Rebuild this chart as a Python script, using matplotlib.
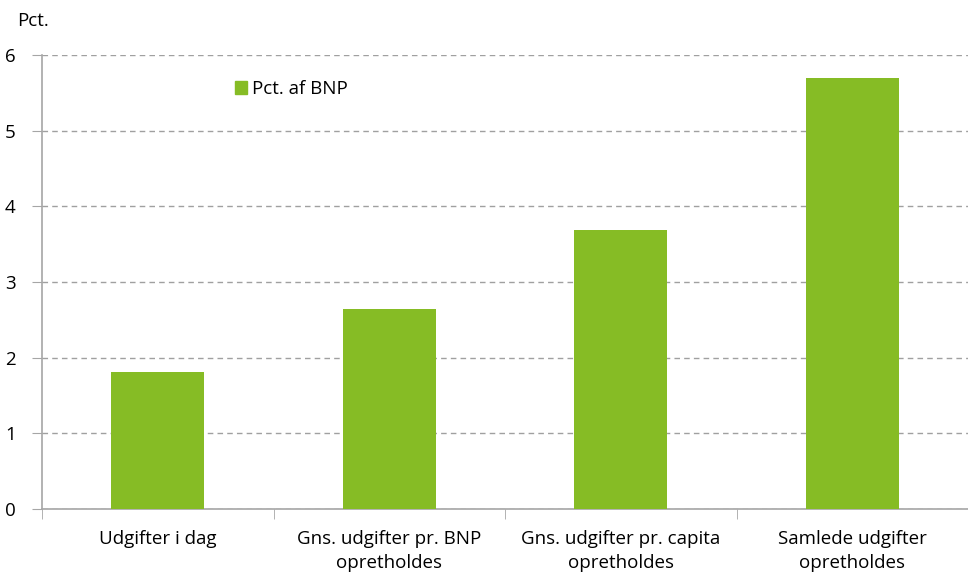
import numpy as np
import matplotlib
matplotlib.use('Agg')
import matplotlib.pyplot as plt
from matplotlib.patches import Patch

# data
categories = ['Udgifter i dag', 'Gns. udgifter pr. BNP\nopretholdes',
              'Gns. udgifter pr. capita\nopretholdes', 'Samlede udgifter\nopretholdes']
values = [1.81, 2.64, 3.69, 5.70]
seriesName = 'Pct. af BNP'
yTicks = [0, 1, 2, 3, 4, 5, 6]

barColor = '#86BC25'
axisColor = '#A6A6A6'
gridColor = '#A0A0A0'
fs = 13.5

plt.rcParams['font.family'] = ['Open Sans', 'DejaVu Sans']

fig = plt.figure(figsize=(9.68, 5.72), dpi=100, facecolor='w')
ax = fig.add_axes([42/968, 1-509/572, 1-42/968, (509-55)/572])

x = np.arange(len(categories))
ax.bar(x, values, width=0.4, color=barColor, zorder=3)

ax.set_xlim(-0.5, len(categories)-0.5)
ax.set_ylim(0, 6)
ax.set_yticks(yTicks)
ax.set_yticklabels([str(t) for t in yTicks], fontsize=fs)
ax.yaxis.grid(True, linestyle=(0, (4, 3)), color=gridColor, linewidth=1, zorder=0)

ax.set_xticks(x)
ax.set_xticklabels(categories, fontsize=fs, linespacing=1.45)
ax.set_xticks(np.arange(-0.5, len(categories), 1.0), minor=True)
ax.tick_params(axis='x', which='major', length=0, pad=15)
ax.tick_params(axis='x', which='minor', length=7, color=axisColor, direction='out')
ax.tick_params(axis='y', length=7, color=axisColor, pad=12)

for s in ['top', 'right']:
	ax.spines[s].set_visible(False)
for s in ['left', 'bottom']:
	ax.spines[s].set_color(axisColor)
	ax.spines[s].set_linewidth(1.2)

leg = ax.legend([Patch(color=barColor)], [seriesName], loc='center left',
	bbox_to_anchor=(0.19, 0.925), frameon=False, fontsize=fs,
	handlelength=0.65, handleheight=0.65, handletextpad=0.25)

fig.text(17/968, 1-21/572, 'Pct.', fontsize=fs, va='center', ha='left')

plt.savefig('out.png', dpi=100)
plt.close()
